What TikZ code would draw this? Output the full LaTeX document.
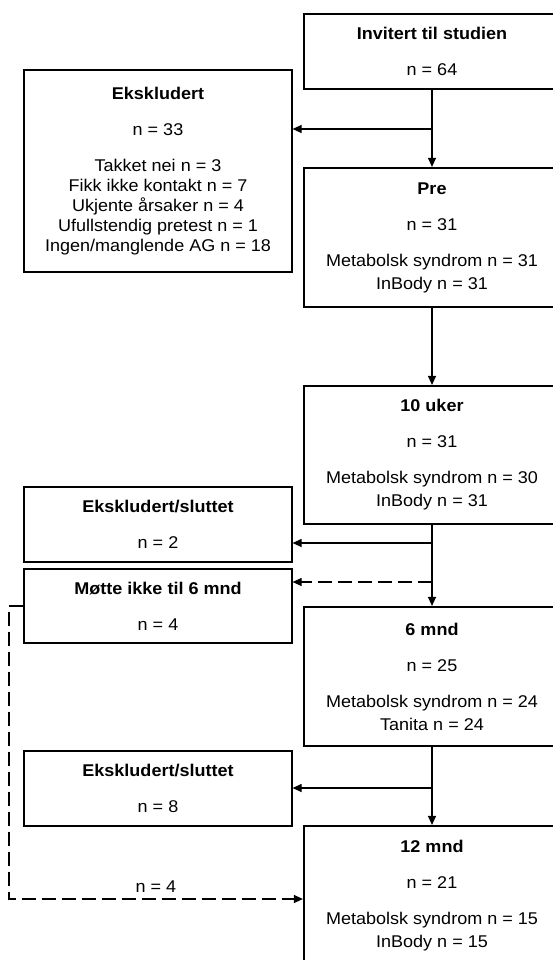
\documentclass[tikz,border=0pt]{standalone}
\usepackage{fontspec}
\setmainfont{Liberation Sans}[FakeStretch=1.06]
\usetikzlibrary{arrows.meta}

\begin{document}
\begin{tikzpicture}[x=1pt, y=-1pt,
    font=\fontsize{17}{20}\selectfont,
    mainbox/.style={draw, line width=2.2pt, minimum width=256pt, align=center, inner sep=0pt},
    sidebox/.style={draw, line width=1.2pt, minimum width=268pt, align=center, inner sep=0pt},
    arr/.style={line width=1.2pt, -{Triangle[length=9pt,width=8pt]}},
    dasharr/.style={arr, dash pattern=on 14pt off 6pt}]
    \useasboundingbox (0,0) rectangle (553,960);
    \clip (0,0) rectangle (553,960);

    % hovedløpet
    \node[mainbox, minimum height=75pt] (inv) at (432,51.5)
        {\textbf{Invitert til studien}\\[16pt] n = 64};
    \node[mainbox, minimum height=139pt] (pre) at (432,237.5)
        {\textbf{Pre}\\[16pt] n = 31\\[16pt] Metabolsk syndrom n = 31\\[3pt] InBody n = 31};
    \node[mainbox, minimum height=138pt] (u10) at (432,455)
        {\textbf{10 uker}\\[16pt] n = 31\\[16pt] Metabolsk syndrom n = 30\\[3pt] InBody n = 31};
    \node[mainbox, minimum height=139pt] (m6) at (432,676.5)
        {\textbf{6 mnd}\\[16pt] n = 25\\[16pt] Metabolsk syndrom n = 24\\[3pt] Tanita n = 24};
    \node[mainbox, minimum height=139pt] (m12) at (432,895.5)
        {\textbf{12 mnd}\\[16pt] n = 21\\[16pt] Metabolsk syndrom n = 15\\[3pt] InBody n = 15};

    % frafall
    \node[sidebox, minimum height=202pt] (eks1) at (158,171)
        {\textbf{Ekskludert}\\[16pt] n = 33\\[16pt] Takket nei n = 3\\ Fikk ikke kontakt n = 7\\
         Ukjente årsaker n = 4\\ Ufullstendig pretest n = 1\\ Ingen/manglende AG n = 18};
    \node[sidebox, minimum height=75pt] (eks2) at (158,524.5)
        {\textbf{Ekskludert/sluttet}\\[16pt] n = 2};
    \node[sidebox, minimum height=74pt] (motte) at (158,606)
        {\textbf{Møtte ikke til 6 mnd}\\[16pt] n = 4};
    \node[sidebox, minimum height=75pt] (eks3) at (158,788.5)
        {\textbf{Ekskludert/sluttet}\\[16pt] n = 8};

    \coordinate (b1) at (432,129);
    \coordinate (b2) at (432,543);
    \coordinate (b3) at (432,582);
    \coordinate (b4) at (432,788);
    \coordinate (venstre) at (9,606);

    \draw[arr] (inv.south) -- (pre.north);
    \draw[arr] (pre.south) -- (u10.north);
    \draw[arr] (u10.south) -- (m6.north);
    \draw[arr] (m6.south) -- (m12.north);

    \draw[arr] (b1) -- (b1 -| eks1.east);
    \draw[arr] (b2) -- (b2 -| eks2.east);
    \draw[dasharr] (b3) -- (b3 -| motte.east);
    \draw[arr] (b4) -- (b4 -| eks3.east);
    \draw[dasharr] (motte.west) -- (venstre) |- node[pos=0.75, above, yshift=3pt]{n = 4} ([yshift=-3.5pt]m12.west);
\end{tikzpicture}
\end{document}
